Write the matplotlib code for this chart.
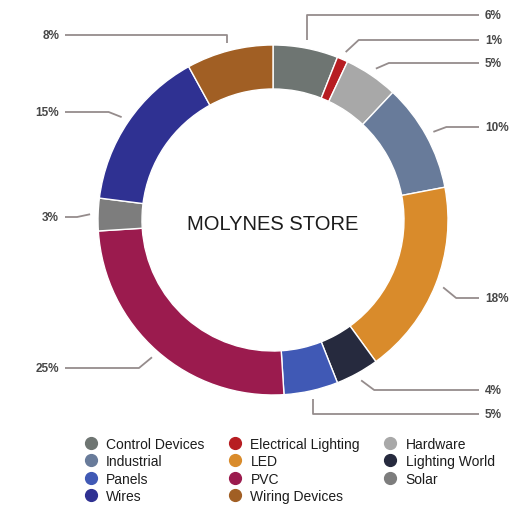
import matplotlib.pyplot as plt
import numpy as np
from matplotlib.lines import Line2D

plt.rcParams['font.family'] = ['Liberation Sans', 'DejaVu Sans']

categories = ["Control Devices", "Electrical Lighting", "Hardware", "Industrial",
              "LED", "Lighting World", "Panels", "PVC", "Solar", "Wires",
              "Wiring Devices"]
shares = [6, 1, 5, 10, 18, 4, 5, 25, 3, 15, 8]
colors = ["#6e7572", "#b71d22", "#a8a8a8", "#687b9a", "#d98b2b", "#262a3e",
          "#4059b5", "#9b1b4e", "#7d7d7d", "#2f3192", "#a15f24"]
labels = ["{}%".format(s) for s in shares]

# label layout (pixel rows from top) and which leaders go straight up/down first
label_rows = [16, 41, 64, 128, 299, 391, 415, 369, 218, 113, 36]
vertical = [True, False, False, False, False, False, True, False, False, False, True]

W, H = 529, 506
fig = plt.figure(figsize=(W / 100, H / 100), dpi=100)
ax = fig.add_axes([0, 0, 1, 1])
cx, cy, R = 273, H - 221, 175

wedges, _ = ax.pie(shares, colors=colors, startangle=90, counterclock=False,
                   radius=R, center=(cx, cy),
                   wedgeprops=dict(width=44, edgecolor='white', linewidth=1))
ax.set_xlim(0, W)
ax.set_ylim(0, H)
ax.set_aspect('equal')
ax.axis('off')

line_col = "#958c8c"
for w, lab, row, vert in zip(wedges, labels, label_rows, vertical):
    ang = np.deg2rad((w.theta1 + w.theta2) / 2)
    px = cx + 183 * np.cos(ang)
    py = cy + 183 * np.sin(ang)
    ty = H - row
    right = np.cos(ang) >= 0
    sgn = 1 if right else -1
    ex = px if vert else px + sgn * 13
    endx = 479 if right else 65
    ax.plot([px, ex, endx], [py, ty, ty], color=line_col, lw=1.3,
            solid_capstyle='butt')
    ax.text(endx + sgn * 6, ty, lab, ha='left' if right else 'right',
            va='center', fontsize=8.5, fontweight='bold', color="#474747")

ax.text(cx, H - 224, "MOLYNES STORE", ha='center', va='center',
        fontsize=14.5, color="#1c1c1c")

handles = [Line2D([], [], marker='o', linestyle='none', markersize=8.5,
                  markerfacecolor=c, markeredgecolor=c, label=n)
           for c, n in zip(colors, categories)]
order = [0, 3, 6, 9, 1, 4, 7, 10, 2, 5, 8]
fig.legend([handles[i] for i in order], [categories[i] for i in order],
           ncol=3, loc='upper left', bbox_to_anchor=(84 / W, 1 - 438 / H),
           frameon=False, fontsize=10, handlelength=1.0, handletextpad=0.6,
           columnspacing=1.7, labelspacing=0.24, borderpad=0,
           borderaxespad=0, labelcolor="#1c1c1c")

fig.savefig("out.png", dpi=100)
